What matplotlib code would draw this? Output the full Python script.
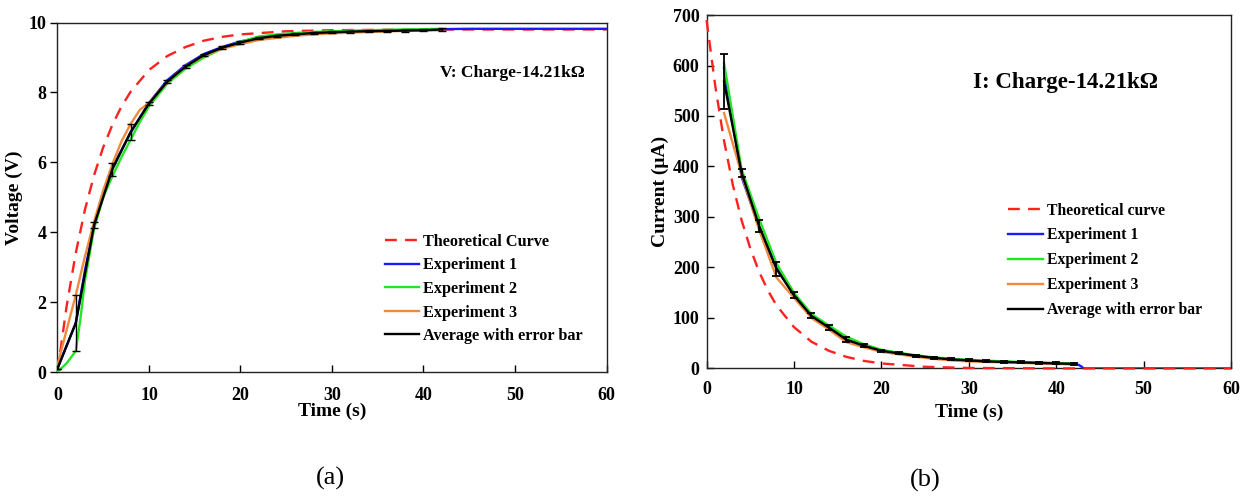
import matplotlib
matplotlib.use("Agg")
import matplotlib.pyplot as plt
from matplotlib.lines import Line2D

# ---------------- data: (a) voltage ----------------
v_theory_t = [0, 1, 2, 3, 4, 5, 6, 7, 8, 10, 12, 14, 16, 18, 20, 25, 30, 40, 50, 60]
v_theory = [0, 1.88, 3.40, 4.64, 5.63, 6.43, 7.07, 7.60, 8.02, 8.64, 9.04, 9.30,
            9.48, 9.59, 9.66, 9.75, 9.78, 9.80, 9.80, 9.80]

v_exp1_t = [0, 1, 2, 3, 4, 6, 8, 10, 12, 14, 16, 18, 20, 22, 24, 26, 28, 30, 35, 40,
            42, 45, 50, 55, 60]
v_exp1 = [0.1, 0.75, 1.4, 2.9, 4.2, 5.85, 6.85, 7.7, 8.35, 8.78, 9.1, 9.3, 9.46,
          9.56, 9.63, 9.68, 9.71, 9.73, 9.77, 9.8, 9.81, 9.82, 9.82, 9.82, 9.82]

v_exp2_t = [0, 1, 2, 2.5, 3, 4, 5, 6, 7, 8, 9, 10, 12, 14, 16, 18, 20, 22, 24, 26,
            28, 30, 34, 38, 42]
v_exp2 = [0, 0.25, 0.6, 1.5, 2.6, 4.1, 5.0, 5.6, 6.15, 6.65, 7.15, 7.6, 8.25, 8.68,
          9.0, 9.25, 9.45, 9.6, 9.66, 9.7, 9.73, 9.75, 9.78, 9.8, 9.82]

v_exp3_t = [0, 1, 2, 3, 4, 5, 6, 7, 8, 9, 10, 12, 14, 16, 18, 20, 22, 24, 26, 28,
            30, 34, 38, 42]
v_exp3 = [0.2, 1.2, 2.2, 3.3, 4.3, 5.2, 5.95, 6.6, 7.1, 7.5, 7.7, 8.3, 8.75, 9.05,
          9.25, 9.38, 9.5, 9.56, 9.62, 9.66, 9.69, 9.73, 9.76, 9.78]

v_avg_t = [0, 2, 4, 6, 8, 10, 12, 14, 16, 18, 20, 22, 24, 26, 28, 30, 32, 34, 36,
           38, 40, 42]
v_avg = [0.1, 1.4, 4.2, 5.8, 6.87, 7.68, 8.31, 8.74, 9.07, 9.28, 9.43, 9.55, 9.62,
         9.66, 9.7, 9.72, 9.74, 9.75, 9.76, 9.77, 9.78, 9.8]
v_err = [0, 0.8, 0.08, 0.18, 0.24, 0.05, 0.05, 0.05, 0.04, 0.04, 0.04, 0.03, 0.03,
         0.03, 0.03, 0.03, 0.03, 0.03, 0.03, 0.03, 0.03, 0.03]

# ---------------- data: (b) current ----------------
i_theory_t = [0, 1, 2, 3, 4, 5, 6, 7, 8, 10, 12, 14, 16, 18, 20, 25, 30, 40, 50, 60]
i_theory = [690, 559, 451, 364, 294, 238, 192, 155, 125, 82, 53, 35, 23, 15, 10,
            3.3, 1, 0.1, 0, 0]

i_exp1_t = [2, 4, 6, 8, 10, 12, 14, 16, 18, 20, 22, 24, 26, 28, 30, 32, 34, 36, 38,
            40, 42, 42.6, 43.2, 60]
i_exp1 = [595, 380, 280, 200, 145, 105, 80, 57, 45, 36, 30, 25, 21, 18, 16, 14, 13,
          12, 11, 10, 9.5, 7, 0, 0]

i_exp2_t = [2, 4, 6, 8, 10, 12, 14, 16, 18, 20, 22, 24, 26, 28, 30, 34, 38, 42]
i_exp2 = [605, 395, 297, 208, 150, 108, 85, 63, 48, 37, 31, 26, 22, 19, 17, 14,
          12, 10]

i_exp3_t = [2, 4, 6, 8, 10, 12, 14, 16, 18, 20, 22, 24, 26, 28, 30, 34, 38, 42]
i_exp3 = [506, 385, 275, 180, 140, 100, 77, 52, 42, 33, 28, 23, 19, 16, 14, 12,
          10, 8]

i_avg_t = [2, 4, 6, 8, 10, 12, 14, 16, 18, 20, 22, 24, 26, 28, 30, 32, 34, 36, 38,
           40, 42]
i_avg = [568, 388, 283, 197, 145, 104, 81, 57, 45, 35, 30, 25, 21, 18, 16, 14, 13,
         12, 11, 10, 9]
i_err = [55, 8, 12, 14, 6, 5, 5, 5, 3, 2, 2, 2, 2, 2, 2, 2, 2, 2, 2, 2, 2]

legend_a = ["Theoretical Curve", "Experiment 1", "Experiment 2", "Experiment 3",
            "Average with error bar"]
legend_b = ["Theoretical curve", "Experiment 1", "Experiment 2", "Experiment 3",
            "Average with error bar"]

plt.rcParams['font.family'] = ['Liberation Serif', 'DejaVu Serif']
plt.rcParams['font.weight'] = 'bold'

RED = '#ff2020'
BLUE = '#1a1aff'
GREEN = '#22e622'
ORANGE = '#f08a3c'
BLACK = '#000000'
DASH = (0, (5, 3.5))
LW = 1.7

fig = plt.figure(figsize=(12.49, 4.97), dpi=100)
axA = fig.add_axes([0.046, 0.2515, 0.4396, 0.7032])
axB = fig.add_axes([0.5657, 0.2586, 0.4199, 0.7112])


def style(ax, ytick_dir, xpad, ypad):
    for s in ax.spines.values():
        s.set_linewidth(1.0)
        s.set_color('#222222')
    ax.tick_params(axis='x', direction='in', length=5, width=1, labelsize=13,
                   pad=xpad)
    ax.tick_params(axis='y', direction=ytick_dir, length=5, width=1,
                   labelsize=13, pad=ypad)
    for lab in ax.get_xticklabels() + ax.get_yticklabels():
        lab.set_fontweight('bold')


def legend_handles(colors):
    hs = [Line2D([], [], color=colors[0], lw=LW, ls=DASH)]
    for c in colors[1:]:
        hs.append(Line2D([], [], color=c, lw=LW))
    return hs


# ---- (a) ----
ax = axA
ax.plot(v_theory_t, v_theory, color=RED, lw=LW, ls=DASH, zorder=2)
ax.plot(v_exp1_t, v_exp1, color=BLUE, lw=LW, zorder=3)
ax.plot(v_exp2_t, v_exp2, color=GREEN, lw=LW, zorder=3)
ax.plot(v_exp3_t, v_exp3, color=ORANGE, lw=LW, zorder=3)
ax.errorbar(v_avg_t, v_avg, yerr=v_err, color=BLACK, lw=LW, elinewidth=1,
            capsize=3, capthick=1, zorder=4)
ax.set_xlim(0, 60)
ax.set_ylim(0, 10)
ax.set_xticks(range(0, 61, 10))
ax.set_yticks(range(0, 11, 2))
style(ax, 'out', 11, 3)
ax.set_xlabel('Time (s)', fontsize=14, fontweight='bold', labelpad=-1)
ax.set_ylabel('Voltage (V)', fontsize=14, fontweight='bold', labelpad=4)
ax.text(0.828, 0.855, 'V: Charge-14.21k\u03a9', transform=ax.transAxes,
        fontsize=12.5, fontweight='bold', ha='center', va='center')
leg = ax.legend(legend_handles([RED, BLUE, GREEN, ORANGE, BLACK]), legend_a,
                loc='upper left', bbox_to_anchor=(0.597, 0.396),
                frameon=False, fontsize=11.7, borderpad=0, borderaxespad=0,
                handlelength=2.05, handletextpad=0.3, labelspacing=0.47)
for t in leg.get_texts():
    t.set_fontweight('bold')

# ---- (b) ----
ax = axB
ax.plot(i_theory_t, i_theory, color=RED, lw=LW, ls=DASH, zorder=5, clip_on=False)
ax.plot(i_exp1_t, i_exp1, color=BLUE, lw=LW, zorder=3)
ax.plot(i_exp2_t, i_exp2, color=GREEN, lw=LW, zorder=3)
ax.plot(i_exp3_t, i_exp3, color=ORANGE, lw=LW, zorder=3)
ax.errorbar(i_avg_t, i_avg, yerr=i_err, color=BLACK, lw=LW, elinewidth=1.3,
            capsize=3, capthick=1.3, zorder=4)
ax.set_xlim(0, 60)
ax.set_ylim(0, 700)
ax.set_xticks(range(0, 61, 10))
ax.set_yticks(range(0, 701, 100))
style(ax, 'in', 9, 5)
ax.set_xlabel('Time (s)', fontsize=14, fontweight='bold', labelpad=4)
ax.set_ylabel('Current (\u03bcA)', fontsize=14, fontweight='bold', labelpad=3)
ax.text(0.685, 0.81, 'I: Charge-14.21k\u03a9', transform=ax.transAxes,
        fontsize=16.5, fontweight='bold', ha='center', va='center')
leg = ax.legend(legend_handles([RED, BLUE, GREEN, ORANGE, BLACK]), legend_b,
                loc='upper left', bbox_to_anchor=(0.575, 0.4695),
                frameon=False, fontsize=11.3, borderpad=0, borderaxespad=0,
                handlelength=2.2, handletextpad=0.3, labelspacing=0.57)
for t in leg.get_texts():
    t.set_fontweight('bold')

fig.text(330 / 1249, 1 - 478 / 497, '(a)', fontsize=19, fontweight='normal',
         ha='center', va='center')
fig.text(925 / 1249, 1 - 480 / 497, '(b)', fontsize=19, fontweight='normal',
         ha='center', va='center')

fig.savefig('out.png', dpi=100)
